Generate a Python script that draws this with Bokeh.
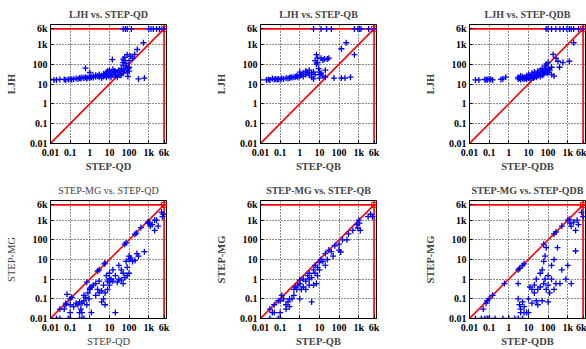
from bokeh.plotting import figure
from bokeh.layouts import gridplot
from bokeh.models import FixedTicker, Range1d
from bokeh.embed import file_html
from bokeh.resources import INLINE

TICKS = [0.01, 0.1, 1, 10, 100, 1000, 6000]
TICK_LABELS = ["0.01", "0.1", "1", "10", "100", "1k", "6k"]
TIMEOUT = 6000

# Panel 1: LJH vs STEP-QD
qd_1 = [0.01, 0.015, 0.02, 0.03, 0.05, 0.06, 0.08, 0.1, 0.12, 0.15, 0.2, 0.25, 0.3, 0.35, 0.4, 0.5, 0.6, 0.7, 0.8,
        1.0, 1.0, 1.2, 1.5, 1.5, 2, 2, 2.5, 3, 3, 4, 4, 5, 5, 6, 7, 7, 8, 8, 9, 10, 10, 10, 12, 12, 15, 15, 18, 20,
        20, 25, 25, 30, 30, 35, 40, 40, 50, 50, 60, 70, 80, 90, 100, 100,
        0.6, 1.0, 14, 50, 50, 55, 60, 70, 80, 100, 120, 150, 190, 260, 540, 300, 600, 40, 87,
        50, 65, 80, 130, 1000, 1300, 1700, 2500, 3500, 4500, 6000]
ljh_1 = [17, 16, 16, 17, 17, 16, 17, 18, 17, 18, 19, 18, 20, 19, 21, 20, 22, 19, 21,
         20, 24, 22, 21, 26, 23, 28, 25, 22, 30, 26, 20, 24, 33, 28, 22, 38, 30, 45, 25, 35, 50, 28, 40, 22, 30, 55, 45, 25,
         38, 40, 22, 30, 50, 28, 45, 60, 35, 90, 50, 80, 40, 60, 70, 45,
         63, 38, 170, 120, 180, 150, 220, 110, 300, 150, 250, 200, 310, 550, 1200, 18, 20, 29, 24,
         6000, 6000, 6000, 6000, 6000, 6000, 6000, 6000, 6000, 6000, 6000]

# Panel 2: LJH vs STEP-QB
qb_2 = [0.01, 0.02, 0.025, 0.03, 0.04, 0.05, 0.06, 0.07, 0.08, 0.1, 0.12, 0.15, 0.2, 0.25, 0.3, 0.35, 0.4, 0.5, 0.6,
        0.7, 0.8, 1.0, 1.0, 1.0, 1.2, 1.5, 1.5, 2, 2, 2.5, 3, 3, 4, 4, 5, 5, 6, 6, 7, 7, 8, 8, 9, 10, 10, 10, 12, 15,
        18, 20, 25, 30, 12, 15, 20,
        55, 130, 200, 380, 130, 230, 600,
        5, 12, 23, 40, 600, 900, 1100, 1300, 3200, 6000]
ljh_2 = [16, 16, 17, 16, 19, 17, 18, 17, 18, 17, 19, 18, 20, 19, 20, 22, 21, 22, 23,
         25, 22, 25, 30, 40, 28, 35, 24, 30, 45, 38, 28, 50, 35, 22, 40, 18, 30, 150, 100, 300, 200, 120, 60, 40, 20, 30, 200, 160,
         180, 50, 180, 200, 35, 25, 22,
         20, 20, 20, 22, 600, 1200, 300,
         6000, 6000, 6000, 6000, 6000, 6000, 6000, 6000, 6000, 6000]

# Panel 3: LJH vs STEP-QDB
qdb_3 = [0.02, 0.03, 0.06, 0.07, 0.08, 0.1, 0.12, 0.15, 0.4, 0.5, 0.7,
         3, 3, 3.5, 4, 4, 5, 5, 6, 6, 7, 8, 8, 9, 10, 10, 10, 12, 12, 15, 15, 15, 18, 20, 20, 20, 25, 25, 30, 30, 30,
         40, 40, 40, 50, 50, 50, 60, 60, 70, 70, 80, 80, 90, 100, 100, 100, 120, 150, 150, 200, 180, 316, 380, 560,
         1200, 2000, 250,
         80, 100, 150, 250, 400, 600, 900, 1200, 1500, 2000, 3500, 6000]
ljh_3 = [16, 16, 17, 16, 17, 18, 17, 16, 17, 18, 22,
         18, 22, 20, 17, 25, 19, 23, 18, 21, 20, 18, 26, 22, 20, 24, 30, 19, 22, 21, 25, 35, 20, 23, 28, 40, 22, 30, 25, 35, 45,
         24, 30, 50, 28, 35, 60, 30, 45, 40, 80, 50, 100, 35, 40, 60, 120, 50, 70, 30, 25, 310, 140, 70, 120,
         140, 1200, 200,
         6000, 6000, 6000, 6000, 6000, 6000, 6000, 6000, 6000, 6000, 6000, 6000]

# Panel 4: STEP-MG vs STEP-QD
qd_4 = [0.03, 0.06, 0.1, 0.12, 0.7, 2.5, 3, 5.5, 6, 60, 70, 200, 230, 400, 900, 1100,
        0.05, 0.06, 0.07, 0.08, 0.1, 0.1, 0.15, 0.2,
        0.25, 0.3, 0.3, 0.35, 0.4, 0.4, 0.5, 0.5, 0.6, 0.7, 0.8, 0.9, 0.3, 0.4, 0.5, 0.02, 0.03, 0.01, 0.1,
        1, 1, 1.2, 1.2, 1.5, 2, 2, 2.5, 3, 3, 4, 4, 5, 5, 6, 6, 7, 8, 8, 10, 10, 10, 10,
        12, 15, 15, 20, 20, 25, 30, 30, 40, 40, 50, 50, 60, 70, 80, 80, 100, 100, 100, 120, 150, 200, 250,
        300, 600, 1000, 1200, 1500, 2000, 2000, 2500, 3000, 4500, 5000, 5500]
mg_4 = [0.03, 0.06, 0.1, 0.12, 0.7, 2.6, 3, 6, 6.5, 60, 70, 190, 220, 420, 800, 700,
        0.03, 0.05, 0.17, 0.01, 0.02, 0.05, 0.04, 0.06,
        0.05, 0.02, 0.07, 0.03, 0.06, 0.02, 0.08, 0.15, 0.12, 0.05, 0.2, 0.1, 0.01, 0.01, 0.01, 0.01, 0.01, 0.01, 0.01,
        0.3, 0.35, 0.4, 0.02, 0.5, 0.6, 0.15, 0.3, 0.2, 0.8, 0.25, 0.07, 0.5, 0.1, 0.2, 0.05, 1.5, 0.3, 0.8, 1.0, 0.5, 0.7, 2,
        1, 0.8, 3, 1.5, 0.02, 0.7, 1, 5, 3, 0.9, 2, 0.6, 1.2, 8, 1.5, 4, 2, 10, 15, 12, 8, 9, 20,
        15, 25, 700, 500, 600, 300, 1000, 1000, 500, 2500, 1500, 2000]

# Panel 5: STEP-MG vs STEP-QB
qb_5 = [0.01, 0.03, 0.04, 0.05, 0.08, 0.1, 0.1,
        0.03, 0.05, 0.08, 0.1, 0.12, 0.15, 0.2, 0.2, 0.25, 0.3, 0.3, 0.4, 0.5, 0.5, 0.6, 0.7, 0.8, 1, 1, 1, 1.2,
        1.5, 1.5, 2, 2, 2.5, 3, 3, 3, 4, 4, 5, 5, 6, 6, 7, 8, 8, 10, 10, 12, 15, 20, 20, 25, 30, 40, 50, 60, 100,
        100, 150, 120,
        250, 300, 500, 800, 900, 1000, 1100, 1200, 3000, 4000, 5000]
mg_5 = [0.01, 0.01, 0.02, 0.02, 0.01, 0.01, 0.02,
        0.03, 0.05, 0.08, 0.08, 0.15, 0.1, 0.03, 0.05, 0.07, 0.1, 0.04, 0.1, 0.15, 0.3, 0.4, 0.3, 0.5, 0.1, 0.6, 0.9, 0.3,
        1, 0.4, 0.8, 0.3, 1.5, 2, 0.5, 1, 0.07, 1.2, 3, 0.5, 2, 5, 0.6, 1.5, 4, 3, 7, 10, 8, 5, 20, 10, 30, 25, 15, 50, 30,
        60, 100, 24,
        100, 200, 300, 600, 400, 1000, 700, 300, 1500, 2000, 1500]

# Panel 6: STEP-MG vs STEP-QDB
qdb_6 = [0.02, 0.04, 0.06, 0.08, 0.1, 0.2, 0.5, 1, 2, 3, 5,
         0.05, 0.07, 0.08, 0.1, 0.15, 0.6, 3, 3.5, 5, 6, 60, 200, 250, 500, 1000,
         3, 3, 3.5, 4, 4, 5, 6, 6, 8, 10, 10, 12, 15, 15, 20, 20, 25, 25, 30, 30, 40, 40, 50, 50, 60, 60, 70, 70,
         80, 80, 100, 100, 100, 120, 150, 150, 200, 200, 250, 300, 400, 500, 800, 1000, 1500,
         1200, 1300, 1500, 2000, 2500, 3000, 3500, 2500, 5000, 6000]
mg_6 = [0.01, 0.01, 0.01, 0.01, 0.01, 0.01, 0.01, 0.01, 0.01, 0.01, 0.01,
        0.03, 0.06, 0.08, 0.1, 0.15, 0.6, 3, 3.5, 5, 6, 60, 200, 250, 500, 1000,
        0.6, 0.1, 0.05, 0.03, 0.02, 0.07, 0.04, 0.02, 0.02, 0.02, 0.1, 0.4, 0.3, 0.06, 0.2, 0.5, 1, 0.08, 0.3, 0.05,
        0.4, 2, 0.08, 3, 0.6, 8, 1, 15, 0.3, 40, 0.5, 1.5, 0.07, 0.2, 5, 1, 0.3, 10, 0.6, 40, 0.6, 3, 1, 5, 0.6,
        1100, 700, 500, 800, 300, 1000, 600, 27, 2500, 1500]

FONT = "Liberation Serif"


def make_panel(xs, ys, title, xlabel, ylabel, width, b_left, b_right, height, b_top, b_bottom, bold=True):
    p = figure(width=width, height=height, x_axis_type="log", y_axis_type="log",
               x_range=Range1d(0.01, 8000), y_range=Range1d(0.01, 10000),
               output_backend="svg", toolbar_location=None,
               min_border_left=b_left, min_border_right=b_right,
               min_border_top=b_top, min_border_bottom=b_bottom)
    style = "bold" if bold else "normal"
    p.title.text = title
    p.title.text_font = FONT
    p.title.text_font_size = "10px"
    p.title.text_font_style = style
    p.title.align = "center"
    p.title.standoff = 9
    p.outline_line_color = "black"
    p.outline_line_width = 1
    p.outline_line_alpha = 1
    overrides = {t: l for t, l in zip(TICKS, TICK_LABELS)}
    for ax, lab in ((p.xaxis, xlabel), (p.yaxis, ylabel)):
        ax.ticker = FixedTicker(ticks=TICKS)
        ax.major_label_overrides = overrides
        ax.axis_label = lab
        ax.axis_label_text_font = FONT
        ax.axis_label_text_font_size = "10.5px"
        ax.axis_label_text_font_style = style
        ax.major_label_text_font = FONT
        ax.major_label_text_font_size = "10px"
        ax.major_label_text_font_style = "bold"
        ax.major_label_text_color = "black"
        ax.axis_line_color = "black"
        ax.major_tick_in = 3
        ax.major_tick_out = 0
        ax.minor_tick_line_color = None
        ax.major_label_standoff = 3
    p.xaxis.axis_label_standoff = 0
    p.yaxis.axis_label_standoff = 10
    for g in (p.xgrid, p.ygrid):
        g.grid_line_color = "black"
        g.grid_line_dash = "1 2"
        g.grid_line_alpha = 0.9
    p.line([0.01, TIMEOUT], [0.01, TIMEOUT], line_color="red", line_width=1.6)
    p.line([0.01, 8000], [TIMEOUT, TIMEOUT], line_color="red", line_width=1.6)
    p.line([TIMEOUT, TIMEOUT], [0.01, 10000], line_color="red", line_width=1.6)
    p.scatter(xs, ys, marker="cross", size=6, line_color="blue", line_width=1.3)
    p.scatter([TIMEOUT], [TIMEOUT], marker="square", size=5, fill_color=None, line_color="red", line_width=1)
    return p


H1, T1, B1 = 175, 24, 32
H2, T2, B2 = 174, 25, 30
L = 50
W1, R1 = 210, 44
W2, R2 = 209, 43
W3, R3 = 167, 1

p1 = make_panel(qd_1, ljh_1, "LJH vs. STEP-QD", "STEP-QD", "LJH", W1, L, R1, H1, T1, B1)
p2 = make_panel(qb_2, ljh_2, "LJH vs. STEP-QB", "STEP-QB", "LJH", W2, L, R2, H1, T1, B1)
p3 = make_panel(qdb_3, ljh_3, "LJH vs. STEP-QDB", "STEP-QDB", "LJH", W3, L, R3, H1, T1, B1)
p4 = make_panel(qd_4, mg_4, "STEP-MG vs. STEP-QD", "STEP-QD", "STEP-MG", W1, L, R1, H2, T2, B2, bold=False)
p5 = make_panel(qb_5, mg_5, "STEP-MG vs. STEP-QB", "STEP-QB", "STEP-MG", W2, L, R2, H2, T2, B2)
p6 = make_panel(qdb_6, mg_6, "STEP-MG vs. STEP-QDB", "STEP-QDB", "STEP-MG", W3, L, R3, H2, T2, B2)

grid = gridplot([[p1, p2, p3], [p4, p5, p6]], toolbar_location=None)

open("out.html", "w").write(file_html(grid, INLINE))
